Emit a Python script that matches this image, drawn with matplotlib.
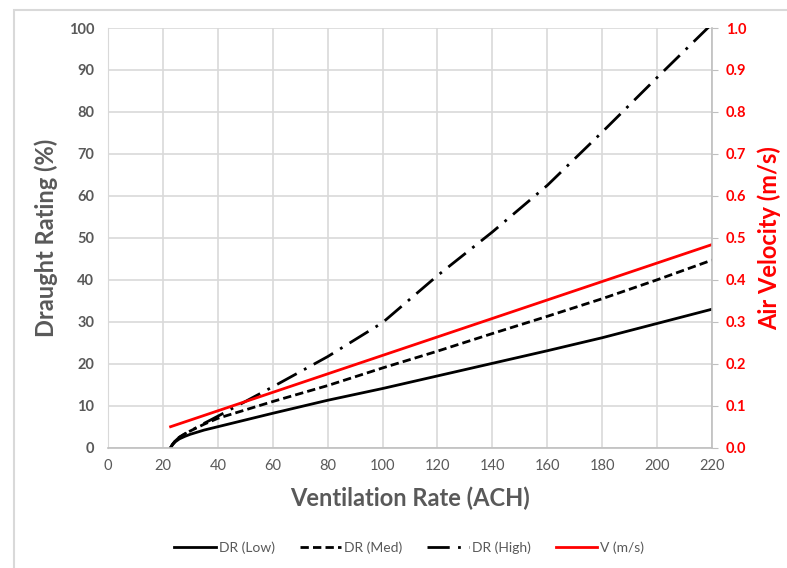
import matplotlib.pyplot as plt
from matplotlib.patches import Rectangle

plt.rcParams['font.family'] = ['Lato', 'DejaVu Sans']

# data
ach = [22.8, 23.5, 24.5, 26, 28, 30, 35, 40, 60, 80, 100, 120, 140, 160, 180, 200, 220]
dr_low = [0, 0.7, 1.4, 2.1, 2.7, 3.2, 4.2, 5.0, 8.2, 11.3, 14.1, 17.1, 20.1, 23.1, 26.2, 29.6, 33.0]
dr_med = [0, 0.8, 1.6, 2.5, 3.3, 4.0, 5.6, 7.0, 11.0, 14.8, 19.0, 23.0, 27.2, 31.3, 35.5, 40.0, 44.7]
dr_high = [0, 0.8, 1.6, 2.5, 3.3, 4.0, 5.8, 7.5, 14.5, 21.7, 29.8, 41.0, 51.4, 62.5, 75.2, 88.2, 101.0]
v_ach = [22.8, 220]
v_ms = [0.05, 0.484]

gray = '#595959'
grid_c = '#d9d9d9'

fig = plt.figure(figsize=(7.87, 5.68), dpi=100)
ax = fig.add_axes([108/787, 1 - 447.7/568, (712-108)/787, (447.7-28)/568])
ax2 = ax.twinx()

ax.plot(ach, dr_low, color='black', lw=2.0, label='DR (Low)')
ax.plot(ach, dr_med, color='black', lw=2.0, dashes=(3, 1.5), label='DR (Med)')
ax.plot(ach, dr_high, color='black', lw=2.0, dashes=(8, 3, 1, 3), label='DR (High)')
ax2.plot(v_ach, v_ms, color='#ff0000', lw=2.0, label='V (m/s)')

ax.set_xlim(0, 220)
ax.set_ylim(0, 100)
ax2.set_ylim(0, 1.0)
ax.set_xticks(range(0, 221, 20))
ax.set_yticks(range(0, 101, 10))
ax2.set_yticks([i / 10 for i in range(11)])
ax2.set_yticklabels([f'{i/10:.1f}' for i in range(11)])

ax.grid(True, color=grid_c, lw=1.2)
ax.set_axisbelow(True)

for a in (ax, ax2):
    for s in a.spines.values():
        s.set_visible(False)
ax.spines['left'].set_visible(True)
ax.spines['left'].set_color(grid_c)
ax.spines['bottom'].set_visible(True)
ax.spines['bottom'].set_color('#bfbfbf')
ax.spines['bottom'].set_linewidth(1.2)
ax2.spines['right'].set_visible(True)
ax2.spines['right'].set_color('#bfbfbf')
ax2.spines['right'].set_linewidth(1.2)

ax.tick_params(axis='x', length=0, pad=8, labelsize=10.5, labelcolor=gray)
ax.tick_params(axis='y', length=0, pad=10, labelsize=10.5, labelcolor=gray)
for t in ax.get_yticklabels():
    t.set_fontweight('bold')
ax2.tick_params(axis='y', length=4, color='#bfbfbf', pad=6, labelsize=10.5, labelcolor='#ff0000')
for t in ax2.get_yticklabels():
    t.set_fontweight('bold')

ax.set_xlabel('Ventilation Rate (ACH)', fontsize=17, fontweight='bold', color=gray, labelpad=10)
ax.set_ylabel('Draught Rating (%)', fontsize=17, fontweight='bold', color=gray, labelpad=8)
ax2.set_ylabel('Air Velocity (m/s)', fontsize=17, fontweight='bold', color='#ff0000', labelpad=8)

h1, l1 = ax.get_legend_handles_labels()
h2, l2 = ax2.get_legend_handles_labels()
fig.legend(h1 + h2, l1 + l2, loc='center', bbox_to_anchor=(0.52, 1 - 548/568), ncol=4,
           frameon=False, fontsize=10, handlelength=3, handletextpad=0.2, columnspacing=1.8,
           labelcolor=gray)

# chart area frame
fig.patches.append(Rectangle((14/787, -0.05), 1.0, 1.05 - 10/568, transform=fig.transFigure,
                             fill=False, edgecolor=grid_c, lw=1.5))

fig.savefig('out.png', dpi=100)
